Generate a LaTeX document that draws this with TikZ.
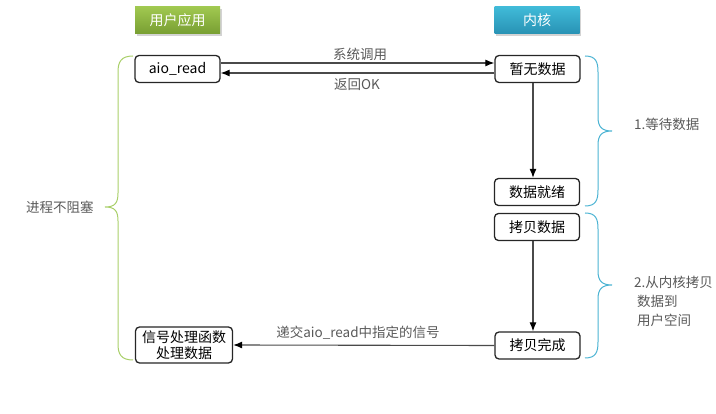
\documentclass[tikz,border=0pt]{standalone}
\usepackage{fontspec}
\setmainfont{Noto Sans CJK SC}
\usetikzlibrary{shadows,arrows.meta}
\definecolor{txtgray}{HTML}{595959}
\definecolor{lineg}{HTML}{4A4A4A}
\definecolor{bracegreen}{HTML}{A9CF6A}
\definecolor{braceblue}{HTML}{4BB3D3}
\tikzset{
  stepbox/.style={draw=black!85, line width=1.3pt, rounded corners=4pt, fill=white,
    minimum width=85pt, minimum height=27pt, inner sep=1pt, font=\fontsize{14}{15}\selectfont, text=black},
  hdr/.style={minimum width=85pt, minimum height=27pt, inner sep=0pt, text=white,
    font=\fontsize{14}{15}\selectfont, drop shadow={shadow xshift=1.5pt, shadow yshift=-2pt, opacity=0.35}},
  conn/.style={draw=lineg, line width=1.1pt, -{Latex[length=9pt,width=7pt,color=black]}},
  lbl/.style={text=txtgray, font=\fontsize{13.5}{15}\selectfont, inner sep=0pt},
  bracel/.style={line width=1pt},
}
\begin{document}
\begin{tikzpicture}[x=1pt,y=-1pt]
\useasboundingbox (0,0) rectangle (716,414);
% headers
\node[hdr, top color={rgb,255:red,160;green,200;blue,80}, bottom color={rgb,255:red,120;green,158;blue,50}] (hu) at (177.5,20.5) {用户应用};
\node[hdr, top color={rgb,255:red,64;green,186;blue,216}, bottom color={rgb,255:red,40;green,146;blue,180}] (hk) at (537,20.5) {内核};
% boxes
\node[stepbox] (aio) at (177.5,69) {aio\_read};
\node[stepbox] (nod) at (537.5,69) {暂无数据};
\node[stepbox] (ready) at (537,192) {数据就绪};
\node[stepbox] (copy) at (537,227) {拷贝数据};
\node[stepbox] (done) at (537.5,345.5) {拷贝完成};
\node[stepbox, minimum width=97pt, minimum height=36pt, align=center, font=\fontsize{14}{16}\selectfont] (sig) at (184,345) {信号处理函数\\处理数据};
% connectors
\draw[conn] ([yshift=6pt]aio.east) -- ([yshift=6pt]nod.west);
\draw[conn] ([yshift=-4pt]nod.west) -- ([yshift=-4pt]aio.east);
\draw[conn] ([xshift=-4.5pt]nod.south) -- ([xshift=-4pt]ready.north);
\draw[conn] ([xshift=-4pt]copy.south) -- ([xshift=-4.5pt]done.north);
\draw[conn] (done.west) -- (sig.east);
% labels
\node[lbl] (l1) at (360,54) {系统调用};
\node[lbl] (l2) at (357,84) {返回OK};
\node[lbl] (l3) at (358,333) {递交aio\_read中指定的信号};
% right braces
\draw[bracel, draw=braceblue] (585,56) .. controls (596,56) and (598,62) .. (598,72) -- (598,117)
  .. controls (598,127) and (602,131) .. (612,131)
  .. controls (602,131) and (598,135) .. (598,145) -- (598,190)
  .. controls (598,200) and (596,206) .. (585,206);
\draw[bracel, draw=braceblue] (585,213) .. controls (596,213) and (598,219) .. (598,229) -- (598,271)
  .. controls (598,281) and (602,285) .. (612,285)
  .. controls (602,285) and (598,289) .. (598,299) -- (598,342)
  .. controls (598,352) and (596,358) .. (585,358);
% left brace
\draw[bracel, draw=bracegreen] (133,56) .. controls (121,56) and (118,62) .. (118,72) -- (118,193)
  .. controls (118,203) and (115,207) .. (105,207)
  .. controls (115,207) and (118,211) .. (118,221) -- (118,344)
  .. controls (118,354) and (121,360) .. (133,360);
% brace labels
\node[lbl, anchor=west] (b1) at (634,124) {1.等待数据};
\node[lbl, anchor=north west, align=left, font=\fontsize{13.5}{19}\selectfont] (b2) at (634,276) {2.从内核拷贝\\\ 数据到\\\ 用户空间};
\node[lbl] (b3) at (60,207) {进程不阻塞};
\end{tikzpicture}
\end{document}
